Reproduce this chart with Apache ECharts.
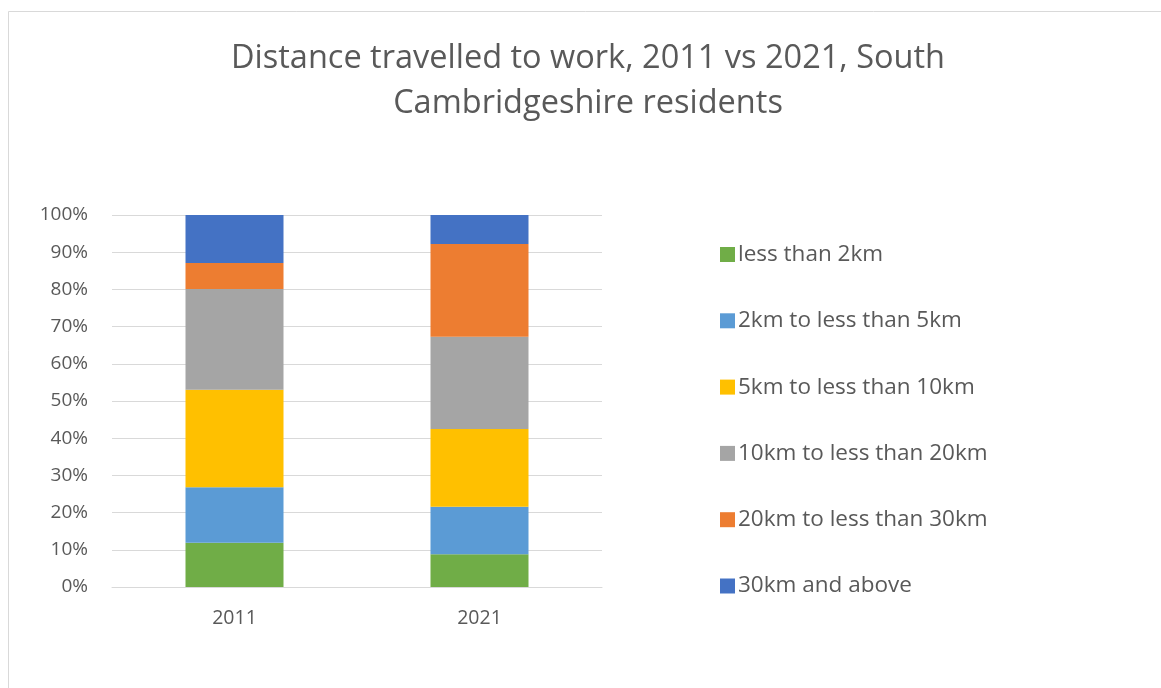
<!DOCTYPE html>
<html><head><meta charset="utf-8">
<script src="https://cdn.jsdelivr.net/npm/echarts@6/dist/echarts.min.js"></script>
<style>html,body{margin:0;padding:0;background:#fff}#c{width:1161px;height:688px}</style>
</head><body><div id="c"></div>
<script>
const categories = ['2011', '2021'];
const seriesNames = ['less than 2km', '2km to less than 5km', '5km to less than 10km', '10km to less than 20km', '20km to less than 30km', '30km and above'];
const lessThan2 = [11.9, 8.8];
const from2to5 = [14.9, 12.8];
const from5to10 = [26.2, 20.9];
const from10to20 = [27.1, 24.8];
const from20to30 = [7.0, 24.9];
const over30 = [12.9, 7.8];
const yTicks = [0, 10, 20, 30, 40, 50, 60, 70, 80, 90, 100];
const colors = ['#70ad47', '#5b9bd5', '#ffc000', '#a5a5a5', '#ed7d31', '#4472c4'];
const values = [lessThan2, from2to5, from5to10, from10to20, from20to30, over30];

const font = 'Open Sans';
const chart = echarts.init(document.getElementById('c'), null, {renderer: 'canvas'});
chart.setOption({
  animation: false,
  backgroundColor: '#fff',
  graphic: [{type: 'rect', shape: {x: 8.5, y: 11.5, width: 1170, height: 700}, style: {fill: 'none', stroke: '#d9d9d9', lineWidth: 1}}],
  title: {
    text: 'Distance travelled to work, 2011 vs 2021, South\nCambridgeshire residents',
    left: 583, top: 31, textAlign: 'center',
    textStyle: {fontFamily: font, fontSize: 32.5, fontWeight: 'normal', color: '#595959', lineHeight: 45}
  },
  legend: {
    orient: 'vertical', left: 715, top: 238, itemGap: 43.3,
    itemWidth: 15, itemHeight: 15, icon: 'rect',
    textStyle: {fontFamily: font, fontSize: 22.5, color: '#595959', padding: [0, 0, 0, -2]},
    data: seriesNames
  },
  grid: {left: 112, right: 559, top: 215, bottom: 101, containLabel: false},
  xAxis: {
    type: 'category', data: categories,
    axisLine: {show: true, lineStyle: {color: '#d9d9d9', width: 1}},
    axisTick: {show: false},
    axisLabel: {fontFamily: font, fontSize: 19.5, color: '#595959', margin: 21}
  },
  yAxis: {
    type: 'value', min: 0, max: 100, interval: 10,
    axisLine: {show: false}, axisTick: {show: false},
    splitLine: {lineStyle: {color: '#d9d9d9', width: 1}},
    axisLabel: {fontFamily: font, fontSize: 19, color: '#595959', margin: 24,
      formatter: v => yTicks.includes(v) ? v + '%' : ''}
  },
  series: seriesNames.map((n, i) => ({
    name: n, type: 'bar', stack: 'all', barWidth: '40%',
    itemStyle: {color: colors[i]},
    data: values[i]
  }))
});
</script></body></html>
